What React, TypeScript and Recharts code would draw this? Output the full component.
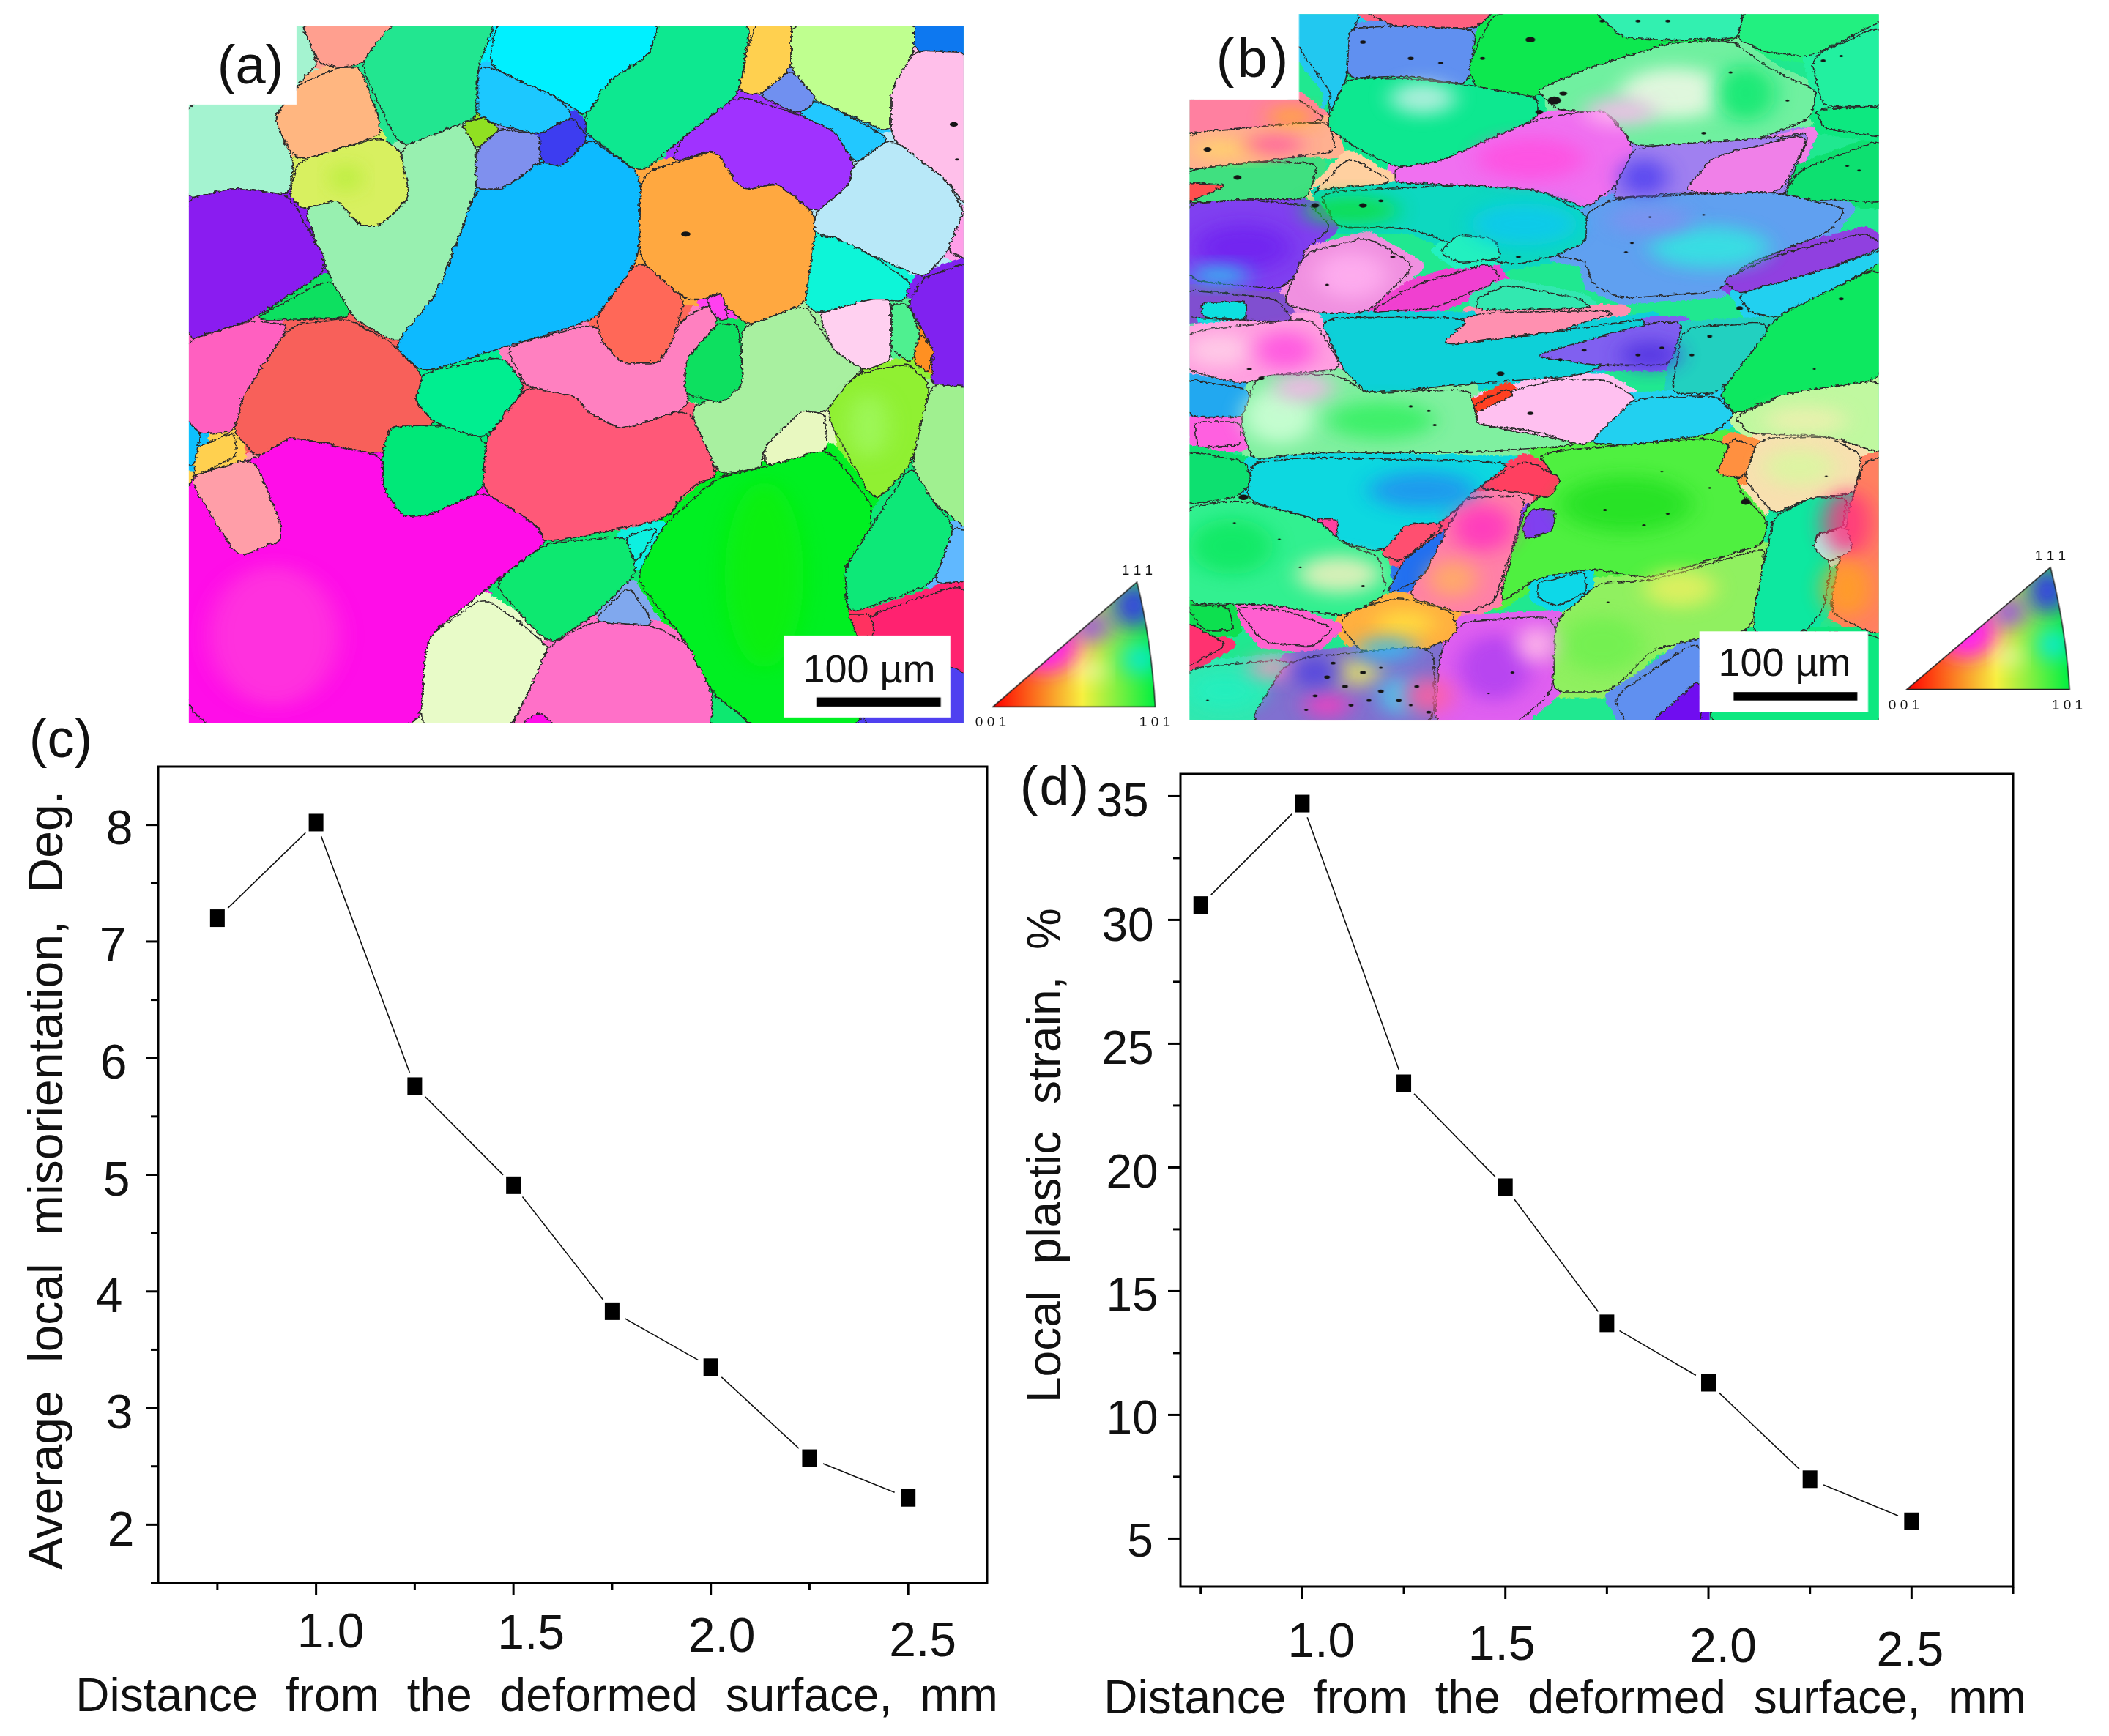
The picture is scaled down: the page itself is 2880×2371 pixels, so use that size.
import * as React from 'react';
import { LineChart, Line, XAxis, YAxis, ReferenceArea, Label } from 'recharts';

const FONT = '"Liberation Sans", Arial, sans-serif';

// chart values
const distances = [0.75, 1.0, 1.25, 1.5, 1.75, 2.0, 2.25, 2.5];
const misorientation = [7.2, 8.02, 5.76, 4.91, 3.83, 3.35, 2.57, 2.23];
const plasticStrain = [30.6, 34.7, 23.4, 19.2, 13.7, 11.3, 7.4, 5.7];

const xTicksC = [0.75, 1.0, 1.25, 1.5, 1.75, 2.0, 2.25, 2.5];
const xTicksD = [0.75, 1.0, 1.25, 1.5, 1.75, 2.0, 2.25, 2.5, 2.75];
const yTicksC = [1.5, 2, 2.5, 3, 3.5, 4, 4.5, 5, 5.5, 6, 6.5, 7, 7.5, 8];
const yTicksD = [5, 7.5, 10, 12.5, 15, 17.5, 20, 22.5, 25, 27.5, 30, 32.5, 35];
const xLabelled = [1.0, 1.5, 2.0, 2.5];
const yLabelledC = [2, 3, 4, 5, 6, 7, 8];
const yLabelledD = [5, 10, 15, 20, 25, 30, 35];

// The tick labels in the source sit a little off their ticks, [dx, dy] from tick/axis
const xOffsetsC: Record<number, number[]> = { 1: [20, 65], 1.5: [24, 67], 2: [15, 71], 2.5: [20, 77] };
const xOffsetsD: Record<number, number[]> = { 1: [26, 73], 1.5: [-5, 77], 2: [20, 80], 2.5: [-2, 85] };
const yOffsetsC: Record<number, number[]> = {
  8: [-53, 3], 7: [-62, 4], 6: [-61, 5], 5: [-57, 5], 4: [-67, 5], 3: [-53, 5], 2: [-51, 6],
};
const yOffsetsD: Record<number, number[]> = {
  35: [-79, 6], 30: [-72, 7], 25: [-72, 6], 20: [-66, 6], 15: [-66, 5], 10: [-66, 4], 5: [-55, 3],
};

// EBSD micrographs: these are pictures, not data, so they are plain svg traced by eye.
// Coordinates are in a 1568x1568 box stretched over the crop of each panel.
const grainsA: [string, string][] = [
  ['#a4f3d0', '20,193 185,193 185,25 195,25 222,110 190,160 155,225 185,320 178,390 95,375 20,400'],
  ['#ff9f8f', '195,25 335,25 335,60 285,115 250,122 222,110'],
  ['#ffb680', '250,122 285,120 315,235 315,265 190,320 155,230 190,160'],
  ['#d8f060', '190,320 315,268 345,295 360,395 315,455 285,455 250,400 200,420 178,390'],
  ['#22e690', '335,25 490,25 462,120 462,225 420,250 345,290 285,115'],
  ['#00f0ff', '490,25 735,25 720,95 660,150 625,225 590,190 480,120'],
  ['#1cc8ff', '480,120 590,190 605,225 555,262 500,245 462,225 462,125'],
  ['#10e890', '735,25 875,25 855,180 770,270 708,345 625,260 625,225 660,150 720,95'],
  ['#ffd050', '880,25 935,25 935,125 885,180 855,170'],
  ['#bfff8f', '935,25 1120,25 1120,85 1085,170 1085,260 970,190 935,125'],
  ['#0a78f0', '1120,25 1205,25 1205,90 1180,108 1120,85'],
  ['#ffbfea', '1120,85 1205,90 1205,430 1170,360 1085,270 1085,170'],
  ['#7090f0', '935,125 975,190 945,220 885,180'],
  ['#20c8ff', '975,190 1085,270 1030,325 1000,255 945,220'],
  ['#a030ff', '855,180 945,220 1000,255 1030,325 1020,370 970,430 915,365 860,380 825,330 820,295 755,320 770,270'],
  ['#90e020', '440,240 470,225 495,250 460,295'],
  ['#7f90ee', '495,250 555,262 558,320 500,378 460,378 460,295'],
  ['#3c3cf0', '555,262 605,225 630,270 590,330 558,320'],
  ['#98f0b0', '345,290 420,250 440,240 460,295 460,378 425,510 405,590 350,695 330,695 275,650 240,565 200,420 250,400 285,455 315,455 360,395'],
  ['#10baff', '460,378 500,378 558,320 590,330 630,270 708,345 705,525 640,650 590,675 505,710 380,765 335,710 405,590'],
  ['#8a1cf0', '20,400 95,375 178,390 240,545 120,655 20,700'],
  ['#10e060', '240,565 275,650 120,655'],
  ['#ff60c0', '20,700 120,655 180,665 110,810 95,890 45,895 20,860'],
  ['#f8605a', '180,665 265,650 330,700 380,770 368,825 400,875 330,880 318,940 180,900 130,945 95,890 110,810'],
  ['#05ee90', '380,765 500,730 535,795 475,905 400,875 368,825'],
  ['#ff80c0', '505,710 640,660 680,745 735,740 770,655 810,620 825,660 775,740 780,840 680,885 630,850 610,815 535,795'],
  ['#ff6858', '640,650 705,525 775,610 755,700 735,745 680,745 650,700'],
  ['#ffa840', '708,345 820,295 860,380 915,365 970,430 970,530 955,620 870,665 835,625 825,595 805,610 775,610 705,525'],
  ['#ff40f0', '805,610 830,595 840,650 825,655'],
  ['#b8e8f8', '1030,325 1085,270 1170,360 1195,425 1170,510 1135,565 1060,520 1000,480 970,470 970,430 1020,370'],
  ['#ff9fe8', '1195,425 1205,430 1205,530 1170,510'],
  ['#10f5d8', '970,475 1000,480 1060,520 1115,575 1105,615 1055,610 975,640 955,620'],
  ['#8020f0', '1135,565 1205,530 1205,795 1145,790 1150,720 1110,620'],
  ['#ffd0f0', '975,640 1055,610 1085,610 1085,740 1045,760 1000,720'],
  ['#50f090', '1085,620 1110,620 1130,680 1115,745 1085,715'],
  ['#ff9020', '1130,680 1150,720 1140,765 1118,740'],
  ['#a8f0a0', '870,665 955,620 1000,720 1045,760 1030,770 985,850 950,845 895,920 890,965 825,980 780,840 860,800 860,680'],
  ['#10e060', '825,660 855,665 862,790 830,830 775,810 775,740'],
  ['#90f030', '1030,770 1110,745 1145,790 1115,960 1060,1040 985,850'],
  ['#e8f8c0', '950,845 985,850 990,925 950,960 895,960 895,920'],
  ['#a0f090', '1145,790 1205,795 1205,1100 1150,1040 1115,960'],
  ['#ff5878', '475,905 535,795 610,815 630,850 680,885 780,840 825,980 780,1010 745,1075 565,1125 550,1085 470,1015'],
  ['#05e878', '330,880 400,875 475,905 470,1015 390,1065 350,1070 320,1010 318,940'],
  ['#ff10e8', '130,945 180,900 318,940 320,1010 350,1070 390,1065 470,1015 550,1085 565,1125 485,1210 385,1325 375,1518 20,1518 20,985 125,945'],
  ['#ff9ea8', '25,985 125,945 165,1080 165,1120 100,1155'],
  ['#ffd050', '35,925 95,890 100,940 35,985'],
  ['#10c0ff', '20,860 45,895 35,960 20,960'],
  ['#00f020', '825,985 895,965 990,925 1055,1040 1055,1090 1015,1180 1020,1275 1060,1330 1040,1518 885,1518 815,1440 780,1340 700,1200 740,1090'],
  ['#10e870', '565,1125 685,1110 700,1170 700,1190 635,1280 570,1340 485,1210'],
  ['#10f0e0', '685,1110 735,1090 700,1170'],
  ['#10e878', '1055,1090 1115,960 1150,1040 1180,1090 1150,1210 1020,1275 1015,1180'],
  ['#60b8ff', '1180,1090 1205,1100 1205,1205 1150,1210'],
  ['#ff2070', '1055,1275 1205,1205 1205,1518 1050,1330'],
  ['#ff3060', '1020,1275 1055,1275 1060,1320 1035,1325'],
  ['#80a8ee', '635,1290 690,1215 730,1300'],
  ['#e8fbc8', '385,1325 470,1240 525,1290 570,1345 545,1420 510,1518 375,1518'],
  ['#ff70c8', '570,1340 635,1290 730,1300 780,1340 815,1440 825,1518 510,1518 545,1420'],
  ['#ff10e8', '515,1518 555,1480 585,1518'],
  ['#10e870', '815,1440 885,1518 815,1518'],
  ['#5040f0', '1040,1518 1065,1330 1205,1400 1205,1518'],
];

const blobsA: [number, number, number, number, string][] = [
  [150, 1330, 100, 150, '#ff38dc'],
  [900, 1200, 60, 200, '#10f010'],
  [1060, 880, 30, 70, '#a0f860'],
  [260, 350, 20, 30, '#b0ee30'],
];

const grainsB: [string, string][] = [
  ['#20c8f0', '213,30 320,30 300,100 295,175 265,260 270,205 215,110'],
  ['#ff6080', '320,30 540,30 510,70 370,65'],
  ['#6090f0', '300,70 370,65 510,70 495,190 400,170 295,175'],
  ['#10e850', '540,30 950,30 940,95 830,100 690,155 640,200 600,215 510,200 495,150'],
  ['#30f0b0', '700,30 950,30 940,90 830,95 750,90'],
  ['#20f080', '950,30 1183,30 1183,50 1060,130 990,120 940,95'],
  ['#70f0a0', '690,155 830,100 930,95 1000,160 1070,200 1060,260 960,310 770,320 730,250 640,240 610,200'],
  ['#10e890', '265,260 295,175 400,175 500,190 610,215 610,260 450,350 380,365 310,320 265,280'],
  ['#f070f0', '450,350 610,260 720,240 770,320 740,400 690,450 610,410 480,400 375,395 375,365'],
  ['#a080f0', '770,320 1000,300 1060,290 1010,440 850,415 735,430 740,400'],
  ['#f080e8', '850,415 900,340 1060,290 1010,420'],
  ['#10e070', '1010,440 1040,370 1183,300 1183,440 1100,430'],
  ['#10e880', '1070,240 1183,235 1183,300 1080,280'],
  ['#20f0a0', '1060,130 1183,60 1183,235 1080,235'],
  ['#ff80a0', '30,215 213,215 265,265 60,290 30,290'],
  ['#ffb090', '30,290 265,265 280,330 150,350 30,370'],
  ['#40e080', '30,370 150,350 250,355 230,430 130,430 30,440'],
  ['#ff5050', '30,395 100,400 30,440'],
  ['#ffd0a0', '240,420 300,340 375,395 250,410'],
  ['#10d8c0', '250,415 480,400 610,410 690,460 690,520 640,550 560,570 400,490 280,490'],
  ['#8040f0', '30,440 130,430 240,445 270,490 225,540 220,590 180,620 30,600'],
  ['#60a0f0', '690,460 735,430 850,420 1000,415 1120,450 1090,500 950,570 910,625 750,640 700,610 690,560 640,550 690,520'],
  ['#9040e0', '915,600 1000,550 1150,500 1183,530 1080,580 940,630'],
  ['#20d0f0', '940,630 1080,580 1183,535 1183,560 1010,680 960,670'],
  ['#f090e0', '190,650 225,545 330,510 410,570 330,670 250,670'],
  ['#f040d0', '330,670 410,610 530,565 550,600 440,660'],
  ['#20f0c0', '450,540 480,505 540,515 550,555 480,565'],
  ['#8050d0', '30,620 180,640 210,690 30,680'],
  ['#10e0e0', '55,650 130,645 130,685 60,680'],
  ['#30e8b0', '510,640 560,610 680,640 700,660 510,665'],
  ['#ff90b0', '450,740 500,670 750,665 640,710'],
  ['#10d0d8', '250,680 500,680 450,740 640,710 800,680 700,800 500,820 330,840 290,790'],
  ['#8060f0', '600,760 800,690 850,690 830,780 700,780'],
  ['#ffa0e0', '30,710 240,680 290,790 180,800 120,820 30,790'],
  ['#10e860', '910,840 1000,680 1183,565 1183,810 1020,840 935,885'],
  ['#20d0c0', '830,840 850,700 1000,690 910,840'],
  ['#20a8f0', '30,810 130,830 140,860 120,890 40,890 30,860'],
  ['#80f0a0', '150,800 280,800 330,840 500,830 510,905 660,940 670,950 500,965 240,965 140,980 120,900'],
  ['#ffc0f0', '510,880 520,850 640,810 720,810 775,850 720,930 680,950 610,920 510,905'],
  ['#ff4020', '505,865 560,830 570,845 510,880'],
  ['#20d0f0', '695,945 770,850 905,845 935,885 900,925 760,950'],
  ['#ff60e0', '45,900 120,900 120,950 50,955'],
  ['#c0f8a0', '935,890 1020,840 1183,810 1183,970 1090,930 960,925'],
  ['#10e070', '30,960 130,985 140,1030 110,1060 30,1075'],
  ['#10d8e0', '140,985 240,975 570,985 510,1040 460,1105 350,1175 280,1150 245,1105 130,1065'],
  ['#50f040', '610,965 920,930 945,1050 990,1110 980,1160 900,1190 790,1230 700,1210 610,1230 545,1285 590,1080 645,1030'],
  ['#ff4060', '510,1040 590,980 650,1020 630,1060 590,1050'],
  ['#f8e0b0', '950,1020 975,935 1090,930 1145,970 1135,1050 1060,1060 1000,1095'],
  ['#ff9040', '905,1010 930,935 970,950 950,1020'],
  ['#ff8060', '1090,1300 1130,1050 1150,985 1183,970 1183,1350 1150,1340'],
  ['#10e8a0', '1000,1100 1060,1060 1120,1060 1115,1120 1065,1140 1095,1200 1080,1300 1050,1345 965,1345 970,1270 990,1160'],
  ['#b0f0e0', '1070,1140 1120,1120 1130,1170 1090,1195 1065,1165'],
  ['#ff80a8', '395,1270 460,1130 490,1060 590,1055 575,1140 540,1280 490,1305'],
  ['#2070f0', '360,1265 390,1190 465,1120 420,1230'],
  ['#ff5070', '350,1180 395,1115 460,1115 385,1195'],
  ['#ff40a0', '245,1105 280,1105 280,1145 255,1145'],
  ['#8040f0', '585,1120 600,1085 640,1085 635,1130 590,1150'],
  ['#30f090', '30,1080 120,1065 245,1105 290,1155 350,1185 360,1250 350,1275 290,1310 160,1285 30,1285'],
  ['#ffb040', '285,1330 300,1300 380,1270 470,1300 480,1350 400,1395 320,1385'],
  ['#ff60d0', '110,1290 200,1300 275,1335 240,1375 160,1365'],
  ['#90f060', '640,1320 710,1240 800,1235 985,1165 980,1220 960,1340 885,1355 800,1380 730,1470 635,1470'],
  ['#10d8e8', '610,1240 690,1215 690,1260 640,1290 610,1270'],
  ['#e060f0', '450,1380 490,1320 640,1310 635,1470 570,1540 440,1543'],
  ['#30e8b0', '30,1420 200,1400 220,1470 130,1543 30,1543'],
  ['#ff3070', '30,1320 100,1370 30,1420'],
  ['#8070d0', '200,1400 440,1370 440,1543 130,1543'],
  ['#10e050', '30,1285 100,1290 110,1340 60,1340'],
  ['#10e880', '965,1345 1183,1345 1183,1543 880,1543'],
  ['#6090f0', '735,1480 880,1355 880,1543 760,1543'],
  ['#7010f0', '790,1543 880,1440 880,1543'],
];

// soft colour patches inside the deformed grains of (b): cx, cy, rx, ry, colour
const blobsB: [number, number, number, number, string][] = [
  [840, 200, 90, 55, '#f4f8e8'],
  [750, 240, 60, 30, '#ffb8f0'],
  [960, 200, 50, 60, '#10e870'],
  [420, 210, 55, 35, '#c8f0e8'],
  [600, 340, 90, 45, '#ff50e0'],
  [790, 380, 40, 40, '#5040f0'],
  [300, 450, 80, 30, '#10e040'],
  [590, 480, 90, 45, '#10c8f0'],
  [900, 530, 100, 45, '#30e8e0'],
  [800, 470, 70, 30, '#8090f0'],
  [120, 530, 80, 50, '#7020f0'],
  [80, 590, 50, 20, '#20d0f0'],
  [180, 890, 60, 60, '#d0ffd8'],
  [350, 900, 90, 40, '#30f060'],
  [220, 830, 50, 30, '#ffb0f0'],
  [80, 750, 55, 35, '#ffd0e8'],
  [190, 750, 50, 40, '#ff50e0'],
  [300, 590, 60, 50, '#ffb0f0'],
  [420, 1050, 90, 40, '#2090f0'],
  [280, 1230, 70, 40, '#f4f0c0'],
  [100, 1170, 70, 60, '#10e860'],
  [850, 1260, 60, 40, '#e8f060'],
  [720, 1380, 70, 60, '#70f050'],
  [1130, 1120, 40, 70, '#ff3080'],
  [1130, 1260, 40, 60, '#ffa020'],
  [520, 1130, 50, 50, '#ff30c0'],
  [470, 1240, 40, 40, '#ffb060'],
  [390, 1335, 50, 30, '#ffe040'],
  [100, 320, 70, 18, '#ffe060'],
  [200, 250, 40, 20, '#ffb020'],
  [170, 310, 50, 20, '#ff50a0'],
  [540, 1430, 60, 70, '#b040f0'],
  [610, 1380, 30, 40, '#ffc0e8'],
  [1050, 1000, 60, 40, '#d8f8a0'],
  [760, 1080, 110, 60, '#20e020'],
  [90, 1480, 60, 40, '#20f0c0'],
  [170, 1430, 40, 25, '#ff90c0'],
  [260, 1510, 40, 30, '#f040c0'],
  [310, 1440, 40, 30, '#e8e860'],
  [380, 1490, 30, 40, '#40d8f0'],
  [430, 1490, 40, 40, '#ff60a0'],
  [240, 1440, 40, 30, '#5040e0'],
  [360, 1390, 50, 25, '#30c0f0'],
  [800, 760, 50, 30, '#5030e0'],
  [1060, 900, 70, 30, '#f0f0b0'],
];

// black specks in (b): cx, cy, r
const specksB: [number, number, number][] = [
  [600, 85, 10], [720, 45, 5], [780, 45, 5], [830, 45, 5], [640, 215, 14], [615, 240, 8], [655, 200, 8],
  [320, 90, 6], [400, 125, 6], [450, 135, 5], [520, 125, 5], [240, 440, 8], [320, 440, 8], [350, 430, 5],
  [935, 155, 4], [1030, 215, 4], [890, 285, 5], [1090, 130, 5], [1120, 120, 4], [1130, 355, 4], [1150, 365, 4],
  [770, 520, 4], [760, 540, 4], [800, 465, 3], [890, 460, 3], [580, 550, 5], [370, 550, 5], [260, 610, 4],
  [780, 760, 5], [820, 745, 5], [870, 760, 5], [900, 720, 5], [650, 770, 5], [690, 750, 5], [550, 800, 8],
  [150, 810, 6], [130, 790, 5], [400, 870, 4], [430, 880, 4], [440, 910, 4], [600, 885, 6], [120, 1065, 10],
  [725, 1092, 4], [790, 1125, 4], [830, 1100, 4], [960, 1075, 10], [820, 1010, 3], [900, 1045, 3], [1095, 1020, 3],
  [180, 1155, 3], [215, 1215, 3], [320, 1255, 4], [105, 1120, 3], [730, 1290, 3], [570, 1440, 4], [530, 1485, 3],
  [260, 1450, 6], [290, 1470, 6], [320, 1440, 6], [350, 1480, 6], [380, 1500, 6], [410, 1470, 5], [300, 1510, 5],
  [240, 1490, 5], [330, 1500, 5], [270, 1420, 5], [350, 1430, 4], [400, 1510, 4], [225, 1520, 4], [430, 1525, 5],
  [60, 320, 8], [110, 380, 8], [60, 1500, 3], [1120, 640, 5], [1075, 790, 3], [950, 660, 7],
];

// rounds the corners of a traced outline a little, grains in the micrographs are not angular
function roundedPath(points: string) {
  const pts = points.split(' ').map((p) => p.split(',').map(Number));
  const n = pts.length;
  let d = '';
  pts.forEach((v, i) => {
    const prev = pts[(i + n - 1) % n];
    const next = pts[(i + 1) % n];
    const a = [v[0] + (prev[0] - v[0]) * 0.22, v[1] + (prev[1] - v[1]) * 0.22];
    const b = [v[0] + (next[0] - v[0]) * 0.22, v[1] + (next[1] - v[1]) * 0.22];
    d += `${i === 0 ? 'M' : 'L'}${a[0]},${a[1]} Q${v[0]},${v[1]} ${b[0]},${b[1]} `;
  });
  return d + 'Z';
}

function MapPanel({ left, top, width, grains, clipX, clipY, box, bar, label, triangle, blobs, specks, id }: any) {
  const cx = (clipX[0] + clipX[1]) / 2;
  const cy = (clipY[0] + clipY[1]) / 2;
  return (
    <svg viewBox="0 0 1568 1568" preserveAspectRatio="none" width={width} height={1000} style={{ position: 'absolute', left, top }}>
      <defs>
        <clipPath id={`${id}-clip`}>
          <rect x={clipX[0]} y={clipY[0]} width={clipX[1] - clipX[0]} height={clipY[1] - clipY[0]} />
        </clipPath>
        <filter id={`${id}-rough`} x="-2%" y="-2%" width="104%" height="104%">
          <feTurbulence type="turbulence" baseFrequency="0.09" numOctaves={2} seed={4} />
          <feDisplacementMap in="SourceGraphic" scale={7} xChannelSelector="R" yChannelSelector="G" />
        </filter>
        <filter id={`${id}-soft`} x="-60%" y="-60%" width="220%" height="220%">
          <feGaussianBlur stdDeviation={18} />
        </filter>
        <filter id={`${id}-soft2`} x="-80%" y="-80%" width="260%" height="260%">
          <feGaussianBlur stdDeviation={20} />
        </filter>
        <linearGradient id={`${id}-base`} x1="0" y1="0" x2="1" y2="0">
          <stop offset="0" stopColor="#ff0000" />
          <stop offset="0.55" stopColor="#f8f040" />
          <stop offset="1" stopColor="#00f040" />
        </linearGradient>
        <clipPath id={`${id}-tri`}>
          <path d={triangle} />
        </clipPath>
      </defs>
      <g clipPath={`url(#${id}-clip)`}>
        <rect x={clipX[0]} y={clipY[0]} width={clipX[1] - clipX[0]} height={clipY[1] - clipY[0]} fill="#20e890" />
        <g transform={`translate(${cx},${cy}) scale(1.015) translate(${-cx},${-cy})`}>
          <g filter={`url(#${id}-rough)`}>
            {/* thick own-colour outline closes the small gaps left between traced grains */}
            {grains.map(([fill, points]: [string, string], i: number) => (
              <polygon key={i} points={points} fill={fill} stroke={fill} strokeWidth={26} strokeLinejoin="round" />
            ))}
            {grains.map(([fill, points]: [string, string], i: number) => (
              <path key={i} d={roundedPath(points)} fill={fill} stroke="#2a2a2a" strokeWidth={1.6} vectorEffect="non-scaling-stroke" />
            ))}
          </g>
        </g>
        <g opacity={0.85}>
          {blobs.map(([bx, by, rx, ry, fill]: any, i: number) => (
            <ellipse key={i} cx={bx} cy={by} rx={rx} ry={ry} fill={fill} filter={`url(#${id}-soft)`} />
          ))}
        </g>
        {specks.map(([sx, sy, r]: any, i: number) => (
          <ellipse key={i} cx={sx} cy={sy} rx={r * 0.8} ry={r * 0.6} fill="#151515" />
        ))}
      </g>
      <rect x={clipX[0] - 5} y={clipY[0] - 5} width={label[0] - clipX[0] + 5} height={label[1] - clipY[0] + 5} fill="#fff" />
      <rect x={box[0]} y={box[1]} width={box[2]} height={box[3]} fill="#fff" />
      <rect x={bar[0]} y={bar[1]} width={bar[2]} height={bar[3]} fill="#000" />
      <path d={triangle} fill={`url(#${id}-base)`} />
      <g clipPath={`url(#${id}-tri)`}>
        <ellipse cx={1330} cy={1350} rx={50} ry={60} fill="#ff20f0" filter={`url(#${id}-soft2)`} />
        <ellipse cx={1465} cy={1265} rx={30} ry={50} fill="#3030f0" filter={`url(#${id}-soft2)`} />
        <ellipse cx={1400} cy={1310} rx={25} ry={35} fill="#9040f8" filter={`url(#${id}-soft2)`} />
        <ellipse cx={1475} cy={1380} rx={22} ry={35} fill="#00e8f0" filter={`url(#${id}-soft2)`} />
        <ellipse cx={1400} cy={1405} rx={14} ry={18} fill="#ffffff" filter={`url(#${id}-soft2)`} />
      </g>
      <path d={triangle} fill="none" stroke="#222" strokeWidth={1.5} vectorEffect="non-scaling-stroke" />
    </svg>
  );
}

const pageTexts: [string, number, number, number, number?][] = [
  ['(a)', 342, 88, 74],
  ['(b)', 1712, 79, 74, 4],
  ['(c)', 83, 1008, 74],
  ['(d)', 1441, 1073, 74, 2],
  ['100 µm', 1187, 913, 54],
  ['100 µm', 2437, 904, 54],
  ['0 0 1', 1353, 985, 19],
  ['1 0 1', 1577, 985, 19],
  ['1 1 1', 1553, 778, 19],
  ['0 0 1', 2600, 962, 19],
  ['1 0 1', 2823, 962, 19],
  ['1 1 1', 2800, 758, 19],
];

function tickX(labelled: number[], offsets: Record<number, number[]>, axisY: number) {
  return (props: any) => {
    const v = props.payload.value;
    const major = labelled.includes(v);
    const o = offsets[v];
    return (
      <g>
        <line x1={props.x} x2={props.x} y1={axisY} y2={axisY + (major ? 17 : 10)} stroke="#000" strokeWidth={3} />
        {o && (
          <text x={props.x + o[0]} y={axisY + o[1]} textAnchor="middle" dominantBaseline="central" fontFamily={FONT} fontSize={66} fill="#111">
            {v.toFixed(1)}
          </text>
        )}
      </g>
    );
  };
}

function tickY(labelled: number[], offsets: Record<number, number[]>, axisX: number, size: number) {
  return (props: any) => {
    const v = props.payload.value;
    const major = labelled.includes(v);
    const o = offsets[v];
    return (
      <g>
        <line x1={axisX} x2={axisX - (major ? 17 : 10)} y1={props.y} y2={props.y} stroke="#000" strokeWidth={3} />
        {o && (
          <text x={axisX + o[0]} y={props.y + o[1]} textAnchor="middle" dominantBaseline="central" fontFamily={FONT} fontSize={size} fill="#111">
            {v}
          </text>
        )}
      </g>
    );
  };
}

// black square marker with a small white halo that breaks the line, as in the source
function SquareDot(props: any) {
  const { cx, cy } = props;
  return (
    <g>
      <circle cx={cx} cy={cy} r={20} fill="#fff" />
      <rect x={cx - 10} y={cy - 12} width={20} height={24} fill="#000" />
    </g>
  );
}

function Panel({ left, top, width, height, margin, xHeight, values, xDomain, yDomain, xTicks, yTicks, xTick, yTick, xTitle, yTitle, name }: any) {
  const rows = distances.map((d, i) => ({ distance: d, value: values[i] }));
  return (
    <div style={{ position: 'absolute', left, top }}>
      <LineChart width={width} height={height} data={rows} margin={margin}>
        <XAxis
          dataKey="distance"
          type="number"
          domain={xDomain}
          ticks={xTicks}
          interval={0}
          height={xHeight}
          axisLine={false}
          tickLine={false}
          tick={xTick}
          allowDataOverflow
        >
          <Label
            content={() => (
              <text x={xTitle[0]} y={xTitle[1]} textAnchor="middle" dominantBaseline="central" fontFamily={FONT} fontSize={xTitle[2]} wordSpacing={xTitle[3]} fill="#111">
                Distance from the deformed surface, mm
              </text>
            )}
          />
        </XAxis>
        <YAxis
          type="number"
          domain={yDomain}
          ticks={yTicks}
          interval={0}
          width={margin.axisWidth}
          axisLine={false}
          tickLine={false}
          tick={yTick}
          allowDataOverflow
        >
          <Label
            content={() => (
              <text
                transform={`translate(${yTitle[0]},${yTitle[1]}) rotate(-90)`}
                textAnchor="middle"
                dominantBaseline="central"
                fontFamily={FONT}
                fontSize={yTitle[2]}
                wordSpacing={yTitle[3]}
                fill="#111"
              >
                {name}
              </text>
            )}
          />
        </YAxis>
        <ReferenceArea x1={xDomain[0]} x2={xDomain[1]} y1={yDomain[0]} y2={yDomain[1]} fill="none" stroke="#000" strokeWidth={3} />
        <Line dataKey="value" type="linear" stroke="#111" strokeWidth={1.6} dot={<SquareDot />} activeDot={false} isAnimationActive={false} />
      </LineChart>
    </div>
  );
}

export default function App() {
  return (
    <div style={{ position: 'absolute', left: 0, top: 0, width: 2880, height: 2371, background: '#fff', overflow: 'hidden' }}>
      <MapPanel
        id="a"
        left={240}
        top={20}
        width={1400}
        grains={grainsA}
        clipX={[20, 1205]}
        clipY={[25, 1518]}
        label={[185, 193]}
        box={[930, 1330, 255, 175]}
        bar={[980, 1462, 190, 20]}
        triangle="M1250,1482 L1470,1215 Q1492,1340 1498,1482 Z"
        blobs={blobsA}
        specks={[[780, 470, 9], [1190, 235, 8], [1195, 310, 4]]}
      />
      <MapPanel
        id="b"
        left={1600}
        top={0}
        width={1280}
        grains={grainsB}
        clipX={[30, 1183]}
        clipY={[30, 1543]}
        label={[213, 213]}
        box={[883, 1352, 282, 173]}
        bar={[940, 1482, 207, 18]}
        triangle="M1230,1476 L1470,1215 Q1495,1340 1502,1476 Z"
        blobs={blobsB}
        specks={specksB}
      />
      <Panel
        left={0}
        top={980}
        width={1400}
        height={1391}
        margin={{ top: 67, right: 52, bottom: 0, left: 0, axisWidth: 216 }}
        xHeight={209}
        values={misorientation}
        xDomain={[0.6, 2.7]}
        yDomain={[1.5, 8.5]}
        xTicks={xTicksC}
        yTicks={yTicksC}
        xTick={tickX(xLabelled, xOffsetsC, 1182)}
        yTick={tickY(yLabelledC, yOffsetsC, 216, 66)}
        xTitle={[733, 1335, 64, 20]}
        yTitle={[62, 632, 66, 20]}
        name="Average local misorientation, Deg."
      />
      <Panel
        left={1380}
        top={980}
        width={1500}
        height={1391}
        margin={{ top: 77, right: 131, bottom: 0, left: 0, axisWidth: 232 }}
        xHeight={204}
        values={plasticStrain}
        xDomain={[0.7, 2.75]}
        yDomain={[3.06, 35.9]}
        xTicks={xTicksD}
        yTicks={yTicksD}
        xTick={tickX(xLabelled, xOffsetsD, 1187)}
        yTick={tickY(yLabelledD, yOffsetsD, 232, 64)}
        xTitle={[757, 1338, 64, 20]}
        yTitle={[46, 598, 64, 19]}
        name="Local plastic strain, %"
      />
      <svg width={2880} height={2371} style={{ position: 'absolute', left: 0, top: 0, pointerEvents: 'none' }}>
        {pageTexts.map(([text, x, y, size, spacing], i) => (
          <text key={i} x={x} y={y} textAnchor="middle" dominantBaseline="central" fontFamily={FONT} fontSize={size} letterSpacing={spacing ?? 0} fill="#111">
            {text}
          </text>
        ))}
      </svg>
    </div>
  );
}
